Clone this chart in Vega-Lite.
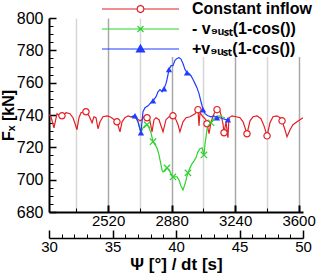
{
  "$schema": "https://vega.github.io/schema/vega-lite/v6.json",
  "width": 254,
  "height": 194,
  "autosize": {"type": "none"},
  "padding": {"left": 49, "top": 18, "right": 17, "bottom": 64},
  "background": "white",
  "config": {
    "font": "Liberation Sans",
    "view": {"stroke": null},
    "axis": {"labelColor": "black", "titleColor": "black", "tickColor": "black", "domainColor": "black", "labelFont": "Liberation Sans", "titleFont": "Liberation Sans"}
  },
  "datasets": {
    "curves": [
      {"series": "Constant inflow", "deg": 30.00, "F": 740.2},
      {"series": "Constant inflow", "deg": 30.16, "F": 738.9},
      {"series": "Constant inflow", "deg": 30.39, "F": 732.1},
      {"series": "Constant inflow", "deg": 30.63, "F": 740.8},
      {"series": "Constant inflow", "deg": 30.87, "F": 739.5},
      {"series": "Constant inflow", "deg": 31.02, "F": 739.5},
      {"series": "Constant inflow", "deg": 31.34, "F": 741.4},
      {"series": "Constant inflow", "deg": 31.65, "F": 740.8},
      {"series": "Constant inflow", "deg": 31.89, "F": 738.3},
      {"series": "Constant inflow", "deg": 32.05, "F": 734.6},
      {"series": "Constant inflow", "deg": 32.20, "F": 730.9},
      {"series": "Constant inflow", "deg": 32.36, "F": 738.3},
      {"series": "Constant inflow", "deg": 32.52, "F": 741.4},
      {"series": "Constant inflow", "deg": 32.76, "F": 742.0},
      {"series": "Constant inflow", "deg": 32.91, "F": 742.0},
      {"series": "Constant inflow", "deg": 33.15, "F": 739.5},
      {"series": "Constant inflow", "deg": 33.39, "F": 735.2},
      {"series": "Constant inflow", "deg": 33.54, "F": 738.9},
      {"series": "Constant inflow", "deg": 33.70, "F": 738.3},
      {"series": "Constant inflow", "deg": 33.86, "F": 731.5},
      {"series": "Constant inflow", "deg": 34.02, "F": 735.8},
      {"series": "Constant inflow", "deg": 34.25, "F": 738.9},
      {"series": "Constant inflow", "deg": 34.57, "F": 739.5},
      {"series": "Constant inflow", "deg": 34.80, "F": 738.9},
      {"series": "Constant inflow", "deg": 35.04, "F": 737.7},
      {"series": "Constant inflow", "deg": 35.35, "F": 735.8},
      {"series": "Constant inflow", "deg": 35.59, "F": 729.6},
      {"series": "Constant inflow", "deg": 35.75, "F": 735.8},
      {"series": "Constant inflow", "deg": 35.98, "F": 738.3},
      {"series": "Constant inflow", "deg": 36.22, "F": 739.5},
      {"series": "Constant inflow", "deg": 36.46, "F": 738.9},
      {"series": "Constant inflow", "deg": 36.69, "F": 738.9},
      {"series": "Constant inflow", "deg": 36.93, "F": 737.7},
      {"series": "Constant inflow", "deg": 37.17, "F": 736.4},
      {"series": "Constant inflow", "deg": 37.32, "F": 737.1},
      {"series": "Constant inflow", "deg": 37.48, "F": 738.9},
      {"series": "Constant inflow", "deg": 37.72, "F": 738.3},
      {"series": "Constant inflow", "deg": 37.95, "F": 736.4},
      {"series": "Constant inflow", "deg": 38.11, "F": 729.6},
      {"series": "Constant inflow", "deg": 38.27, "F": 737.1},
      {"series": "Constant inflow", "deg": 38.43, "F": 738.3},
      {"series": "Constant inflow", "deg": 38.66, "F": 737.1},
      {"series": "Constant inflow", "deg": 38.98, "F": 729.6},
      {"series": "Constant inflow", "deg": 39.21, "F": 737.1},
      {"series": "Constant inflow", "deg": 39.45, "F": 738.9},
      {"series": "Constant inflow", "deg": 39.76, "F": 739.5},
      {"series": "Constant inflow", "deg": 40.00, "F": 737.1},
      {"series": "Constant inflow", "deg": 40.16, "F": 734.0},
      {"series": "Constant inflow", "deg": 40.31, "F": 729.6},
      {"series": "Constant inflow", "deg": 40.55, "F": 735.8},
      {"series": "Constant inflow", "deg": 40.79, "F": 738.3},
      {"series": "Constant inflow", "deg": 41.10, "F": 738.9},
      {"series": "Constant inflow", "deg": 41.50, "F": 740.8},
      {"series": "Constant inflow", "deg": 41.73, "F": 743.3},
      {"series": "Constant inflow", "deg": 41.81, "F": 733.3},
      {"series": "Constant inflow", "deg": 41.89, "F": 741.4},
      {"series": "Constant inflow", "deg": 42.13, "F": 738.9},
      {"series": "Constant inflow", "deg": 42.36, "F": 737.1},
      {"series": "Constant inflow", "deg": 42.44, "F": 734.6},
      {"series": "Constant inflow", "deg": 42.60, "F": 728.4},
      {"series": "Constant inflow", "deg": 42.76, "F": 735.8},
      {"series": "Constant inflow", "deg": 42.99, "F": 740.8},
      {"series": "Constant inflow", "deg": 43.23, "F": 743.3},
      {"series": "Constant inflow", "deg": 43.39, "F": 743.9},
      {"series": "Constant inflow", "deg": 43.54, "F": 740.2},
      {"series": "Constant inflow", "deg": 43.70, "F": 734.6},
      {"series": "Constant inflow", "deg": 43.78, "F": 729.0},
      {"series": "Constant inflow", "deg": 43.94, "F": 735.8},
      {"series": "Constant inflow", "deg": 44.09, "F": 725.9},
      {"series": "Constant inflow", "deg": 44.17, "F": 738.3},
      {"series": "Constant inflow", "deg": 44.41, "F": 739.5},
      {"series": "Constant inflow", "deg": 44.72, "F": 738.9},
      {"series": "Constant inflow", "deg": 45.04, "F": 738.3},
      {"series": "Constant inflow", "deg": 45.28, "F": 735.8},
      {"series": "Constant inflow", "deg": 45.59, "F": 728.4},
      {"series": "Constant inflow", "deg": 45.83, "F": 736.4},
      {"series": "Constant inflow", "deg": 46.06, "F": 738.9},
      {"series": "Constant inflow", "deg": 46.38, "F": 739.5},
      {"series": "Constant inflow", "deg": 46.69, "F": 737.7},
      {"series": "Constant inflow", "deg": 46.93, "F": 733.3},
      {"series": "Constant inflow", "deg": 47.17, "F": 727.1},
      {"series": "Constant inflow", "deg": 47.40, "F": 735.2},
      {"series": "Constant inflow", "deg": 47.64, "F": 738.9},
      {"series": "Constant inflow", "deg": 47.95, "F": 739.5},
      {"series": "Constant inflow", "deg": 48.19, "F": 738.3},
      {"series": "Constant inflow", "deg": 48.35, "F": 736.4},
      {"series": "Constant inflow", "deg": 48.58, "F": 730.9},
      {"series": "Constant inflow", "deg": 48.74, "F": 726.5},
      {"series": "Constant inflow", "deg": 48.98, "F": 730.9},
      {"series": "Constant inflow", "deg": 49.21, "F": 734.0},
      {"series": "Constant inflow", "deg": 49.53, "F": 735.8},
      {"series": "Constant inflow", "deg": 49.76, "F": 737.1},
      {"series": "Constant inflow", "deg": 50.00, "F": 738.3},

      {"series": "- vgust(1-cos())", "deg": 36.46, "F": 738.9},
      {"series": "- vgust(1-cos())", "deg": 36.77, "F": 739.5},
      {"series": "- vgust(1-cos())", "deg": 37.01, "F": 735.8},
      {"series": "- vgust(1-cos())", "deg": 37.24, "F": 729.0},
      {"series": "- vgust(1-cos())", "deg": 37.40, "F": 732.1},
      {"series": "- vgust(1-cos())", "deg": 37.56, "F": 733.3},
      {"series": "- vgust(1-cos())", "deg": 37.72, "F": 734.0},
      {"series": "- vgust(1-cos())", "deg": 37.87, "F": 732.1},
      {"series": "- vgust(1-cos())", "deg": 38.03, "F": 729.0},
      {"series": "- vgust(1-cos())", "deg": 38.19, "F": 723.5},
      {"series": "- vgust(1-cos())", "deg": 38.35, "F": 721.6},
      {"series": "- vgust(1-cos())", "deg": 38.50, "F": 719.7},
      {"series": "- vgust(1-cos())", "deg": 38.66, "F": 715.3},
      {"series": "- vgust(1-cos())", "deg": 38.74, "F": 712.2},
      {"series": "- vgust(1-cos())", "deg": 38.90, "F": 706.0},
      {"series": "- vgust(1-cos())", "deg": 38.98, "F": 704.8},
      {"series": "- vgust(1-cos())", "deg": 39.13, "F": 705.4},
      {"series": "- vgust(1-cos())", "deg": 39.29, "F": 707.3},
      {"series": "- vgust(1-cos())", "deg": 39.45, "F": 706.0},
      {"series": "- vgust(1-cos())", "deg": 39.61, "F": 703.6},
      {"series": "- vgust(1-cos())", "deg": 39.76, "F": 701.7},
      {"series": "- vgust(1-cos())", "deg": 39.92, "F": 701.7},
      {"series": "- vgust(1-cos())", "deg": 40.08, "F": 701.7},
      {"series": "- vgust(1-cos())", "deg": 40.24, "F": 699.8},
      {"series": "- vgust(1-cos())", "deg": 40.39, "F": 696.1},
      {"series": "- vgust(1-cos())", "deg": 40.55, "F": 693.6},
      {"series": "- vgust(1-cos())", "deg": 40.71, "F": 697.3},
      {"series": "- vgust(1-cos())", "deg": 40.87, "F": 702.3},
      {"series": "- vgust(1-cos())", "deg": 40.94, "F": 704.2},
      {"series": "- vgust(1-cos())", "deg": 41.10, "F": 707.3},
      {"series": "- vgust(1-cos())", "deg": 41.26, "F": 709.8},
      {"series": "- vgust(1-cos())", "deg": 41.42, "F": 711.6},
      {"series": "- vgust(1-cos())", "deg": 41.57, "F": 713.5},
      {"series": "- vgust(1-cos())", "deg": 41.73, "F": 717.2},
      {"series": "- vgust(1-cos())", "deg": 41.89, "F": 719.1},
      {"series": "- vgust(1-cos())", "deg": 42.05, "F": 719.7},
      {"series": "- vgust(1-cos())", "deg": 42.20, "F": 715.3},
      {"series": "- vgust(1-cos())", "deg": 42.28, "F": 721.6},
      {"series": "- vgust(1-cos())", "deg": 42.44, "F": 730.9},
      {"series": "- vgust(1-cos())", "deg": 42.60, "F": 735.8},
      {"series": "- vgust(1-cos())", "deg": 42.76, "F": 735.2},
      {"series": "- vgust(1-cos())", "deg": 42.91, "F": 737.1},
      {"series": "- vgust(1-cos())", "deg": 43.15, "F": 738.9},
      {"series": "- vgust(1-cos())", "deg": 43.39, "F": 739.5},
      {"series": "- vgust(1-cos())", "deg": 43.62, "F": 738.9},
      {"series": "- vgust(1-cos())", "deg": 43.86, "F": 738.3},

      {"series": "+vgust(1-cos())", "deg": 36.46, "F": 738.9},
      {"series": "+vgust(1-cos())", "deg": 36.77, "F": 739.5},
      {"series": "+vgust(1-cos())", "deg": 37.01, "F": 735.8},
      {"series": "+vgust(1-cos())", "deg": 37.24, "F": 729.0},
      {"series": "+vgust(1-cos())", "deg": 37.40, "F": 742.0},
      {"series": "+vgust(1-cos())", "deg": 37.56, "F": 744.5},
      {"series": "+vgust(1-cos())", "deg": 37.80, "F": 745.7},
      {"series": "+vgust(1-cos())", "deg": 37.95, "F": 747.0},
      {"series": "+vgust(1-cos())", "deg": 38.19, "F": 748.8},
      {"series": "+vgust(1-cos())", "deg": 38.43, "F": 751.3},
      {"series": "+vgust(1-cos())", "deg": 38.58, "F": 754.4},
      {"series": "+vgust(1-cos())", "deg": 38.74, "F": 755.7},
      {"series": "+vgust(1-cos())", "deg": 38.90, "F": 754.4},
      {"series": "+vgust(1-cos())", "deg": 39.06, "F": 756.3},
      {"series": "+vgust(1-cos())", "deg": 39.21, "F": 759.4},
      {"series": "+vgust(1-cos())", "deg": 39.29, "F": 761.9},
      {"series": "+vgust(1-cos())", "deg": 39.45, "F": 768.1},
      {"series": "+vgust(1-cos())", "deg": 39.61, "F": 770.5},
      {"series": "+vgust(1-cos())", "deg": 39.76, "F": 770.5},
      {"series": "+vgust(1-cos())", "deg": 39.92, "F": 773.8},
      {"series": "+vgust(1-cos())", "deg": 40.08, "F": 775.0},
      {"series": "+vgust(1-cos())", "deg": 40.24, "F": 775.5},
      {"series": "+vgust(1-cos())", "deg": 40.39, "F": 774.6},
      {"series": "+vgust(1-cos())", "deg": 40.55, "F": 771.8},
      {"series": "+vgust(1-cos())", "deg": 40.71, "F": 768.1},
      {"series": "+vgust(1-cos())", "deg": 40.87, "F": 766.2},
      {"series": "+vgust(1-cos())", "deg": 41.02, "F": 765.6},
      {"series": "+vgust(1-cos())", "deg": 41.18, "F": 764.3},
      {"series": "+vgust(1-cos())", "deg": 41.34, "F": 761.9},
      {"series": "+vgust(1-cos())", "deg": 41.50, "F": 759.4},
      {"series": "+vgust(1-cos())", "deg": 41.65, "F": 756.9},
      {"series": "+vgust(1-cos())", "deg": 41.81, "F": 753.2},
      {"series": "+vgust(1-cos())", "deg": 41.97, "F": 748.2},
      {"series": "+vgust(1-cos())", "deg": 42.13, "F": 743.3},
      {"series": "+vgust(1-cos())", "deg": 42.28, "F": 740.8},
      {"series": "+vgust(1-cos())", "deg": 42.52, "F": 739.5},
      {"series": "+vgust(1-cos())", "deg": 42.76, "F": 738.9},
      {"series": "+vgust(1-cos())", "deg": 42.99, "F": 739.5},
      {"series": "+vgust(1-cos())", "deg": 43.23, "F": 738.3},
      {"series": "+vgust(1-cos())", "deg": 43.46, "F": 738.3},
      {"series": "+vgust(1-cos())", "deg": 43.70, "F": 737.7},
      {"series": "+vgust(1-cos())", "deg": 43.94, "F": 737.1},
      {"series": "+vgust(1-cos())", "deg": 44.09, "F": 737.1},
      {"series": "+vgust(1-cos())", "deg": 44.25, "F": 737.7}
    ],
    "markers": [
      {"series": "Constant inflow", "deg": 31.02, "F": 739.5},
      {"series": "Constant inflow", "deg": 32.91, "F": 742.0},
      {"series": "Constant inflow", "deg": 35.35, "F": 735.8},
      {"series": "Constant inflow", "deg": 37.72, "F": 738.3},
      {"series": "Constant inflow", "deg": 39.76, "F": 739.5},
      {"series": "Constant inflow", "deg": 41.73, "F": 743.3},
      {"series": "Constant inflow", "deg": 42.44, "F": 734.6},
      {"series": "Constant inflow", "deg": 43.23, "F": 743.3},
      {"series": "Constant inflow", "deg": 43.78, "F": 729.0},
      {"series": "Constant inflow", "deg": 45.59, "F": 728.4},
      {"series": "Constant inflow", "deg": 47.17, "F": 727.1},
      {"series": "Constant inflow", "deg": 48.35, "F": 736.4},
      {"series": "- vgust(1-cos())", "deg": 37.72, "F": 734.0},
      {"series": "- vgust(1-cos())", "deg": 38.19, "F": 723.5},
      {"series": "- vgust(1-cos())", "deg": 39.29, "F": 707.3},
      {"series": "- vgust(1-cos())", "deg": 39.76, "F": 701.7},
      {"series": "- vgust(1-cos())", "deg": 40.94, "F": 704.2},
      {"series": "- vgust(1-cos())", "deg": 42.20, "F": 715.3},
      {"series": "- vgust(1-cos())", "deg": 42.76, "F": 735.2},
      {"series": "+vgust(1-cos())", "deg": 36.77, "F": 739.5},
      {"series": "+vgust(1-cos())", "deg": 37.24, "F": 729.0},
      {"series": "+vgust(1-cos())", "deg": 38.19, "F": 748.8},
      {"series": "+vgust(1-cos())", "deg": 39.06, "F": 756.3},
      {"series": "+vgust(1-cos())", "deg": 39.45, "F": 768.1},
      {"series": "+vgust(1-cos())", "deg": 40.87, "F": 766.2},
      {"series": "+vgust(1-cos())", "deg": 42.13, "F": 743.3},
      {"series": "+vgust(1-cos())", "deg": 43.23, "F": 738.3},
      {"series": "+vgust(1-cos())", "deg": 44.09, "F": 737.1}
    ]
  },
  "layer": [
    {
      "data": {"name": "curves"},
      "transform": [{"filter": "datum.series === 'Constant inflow'"}],
      "mark": {"type": "line", "strokeWidth": 1.2, "clip": true},
      "encoding": {
        "x": {"field": "deg", "type": "quantitative",
          "scale": {"domain": [30, 50], "nice": false, "zero": false},
          "axis": {"orient": "bottom", "offset": 26, "values": [30, 35, 40, 45, 50], "tickSize": -8, "tickWidth": 1.5, "domainWidth": 1.5, "grid": false,
            "labelFontSize": 15, "labelPadding": 9, "labelFlush": false, "labelOverlap": false,
            "title": "Ψ [°] / dt [s]", "titleFontSize": 17, "titleFontWeight": "bold", "titlePadding": 2}},
        "y": {"field": "F", "type": "quantitative",
          "scale": {"domain": [680, 800], "nice": false, "zero": false},
          "axis": {"orient": "left", "values": [680, 700, 720, 740, 760, 780, 800], "tickSize": -7, "tickWidth": 1.5, "domainWidth": 2, "grid": false,
            "labelFontSize": 16, "labelPadding": 13, "labelFlush": false, "labelOverlap": false,
            "title": "Fₓ [kN]", "titleFontSize": 16, "titleFontWeight": "bold", "titlePadding": 0}},
        "color": {"field": "series", "type": "nominal",
          "scale": {"domain": ["Constant inflow", "- vgust(1-cos())", "+vgust(1-cos())"], "range": ["#e31e24", "#2fd22f", "#1f3cff"]},
          "legend": {"orient": "none", "legendX": 122, "legendY": -17, "title": null, "symbolType": "stroke", "symbolSize": 100, "symbolStrokeWidth": 1.2,
            "labelFont": "Liberation Sans", "labelFontSize": 16, "labelFontWeight": "bold", "labelColor": "black", "labelOffset": 5, "labelLimit": 0,
            "rowPadding": 4, "padding": 0, "fillColor": "white",
            "labelExpr": "datum.index == 0 ? 'Constant inflow' : datum.index == 1 ? '- v₉ᵤₛₜ(1-cos())' : '+v₉ᵤₛₜ(1-cos())'",
            "encode": {"symbols": {"update": {
              "shape": {"signal": "datum.index == 0 ? 'M-15.4,0L-8.4,0M-7,0L0,0M-7,0L-7.2,0.5L-7.7,0.7L-8.2,0.5L-8.4,0L-8.2,-0.5L-7.7,-0.7L-7.2,-0.5Z' : datum.index == 1 ? 'M-15.4,0L0,0M-8.3,-0.6L-7.1,0.6M-8.3,0.6L-7.1,-0.6' : 'M-15.4,0L0,0M-7.7,-0.8L-6.9,0.6L-8.5,0.6Z'"},
              "fill": {"signal": "datum.index == 0 ? 'white' : datum.index == 1 ? 'transparent' : '#1f3cff'"},
              "stroke": {"signal": "datum.index == 0 ? '#e31e24' : datum.index == 1 ? '#2fd22f' : '#1f3cff'"},
              "strokeWidth": {"value": 1.2},
              "opacity": {"value": 1}
            }}}}
        }
      }
    },
    {
      "data": {"name": "curves"},
      "transform": [{"filter": "datum.series === '- vgust(1-cos())'"}],
      "mark": {"type": "line", "strokeWidth": 1.2, "clip": true},
      "encoding": {
        "x": {"field": "deg", "type": "quantitative",
          "scale": {"domain": [30, 50], "nice": false, "zero": false},
          "axis": {"orient": "bottom", "offset": 26, "values": [31, 32, 33, 34, 36, 37, 38, 39, 41, 42, 43, 44, 46, 47, 48, 49], "tickSize": -4, "tickWidth": 1, "domain": false, "labels": false, "grid": false, "title": null}},
        "y": {"field": "F", "type": "quantitative",
          "scale": {"domain": [680, 800], "nice": false, "zero": false},
          "axis": {"orient": "left", "values": [685, 690, 695, 705, 710, 715, 725, 730, 735, 745, 750, 755, 765, 770, 775, 785, 790, 795], "tickSize": -4, "tickWidth": 1, "domain": false, "labels": false, "grid": false, "title": null}},
        "color": {"field": "series", "type": "nominal",
          "scale": {"domain": ["Constant inflow", "- vgust(1-cos())", "+vgust(1-cos())"], "range": ["#e31e24", "#2fd22f", "#1f3cff"]}}
      }
    },
    {
      "data": {"name": "curves"},
      "transform": [{"filter": "datum.series === '+vgust(1-cos())'"}],
      "mark": {"type": "line", "strokeWidth": 1.2, "clip": true},
      "encoding": {
        "x": {"field": "deg", "type": "quantitative",
          "scale": {"domain": [30, 50], "nice": false, "zero": false},
          "axis": {"orient": "bottom", "offset": 0, "values": [34.653, 39.653, 44.653, 49.653], "tickSize": -7, "tickWidth": 2, "domainWidth": 2,
            "grid": true, "gridColor": "#a8a8a8", "gridWidth": 1.5,
            "labelExpr": "format((datum.value - 34.653) * 72 + 2520, 'd')",
            "labelFontSize": 15, "labelPadding": 8, "labelFlush": false, "labelOverlap": false, "title": null}},
        "y": {"field": "F", "type": "quantitative",
          "scale": {"domain": [680, 800], "nice": false, "zero": false}, "axis": null},
        "color": {"field": "series", "type": "nominal",
          "scale": {"domain": ["Constant inflow", "- vgust(1-cos())", "+vgust(1-cos())"], "range": ["#e31e24", "#2fd22f", "#1f3cff"]}}
      }
    },
    {
      "data": {"name": "markers"},
      "transform": [{"filter": "datum.series === 'Constant inflow'"}],
      "mark": {"type": "point", "shape": "circle", "filled": false, "fill": "white", "stroke": "#e31e24", "size": 40, "strokeWidth": 1.2, "opacity": 1, "clip": true},
      "encoding": {
        "x": {"field": "deg", "type": "quantitative",
          "scale": {"domain": [30, 50], "nice": false, "zero": false},
          "axis": {"orient": "bottom", "offset": 0, "values": [32.153, 37.153, 42.153, 47.153], "tickSize": -4, "tickWidth": 1, "domain": false, "labels": false,
            "grid": true, "gridColor": "#d6d6d6", "gridWidth": 1.5, "title": null}},
        "y": {"field": "F", "type": "quantitative",
          "scale": {"domain": [680, 800], "nice": false, "zero": false}, "axis": null}
      }
    },
    {
      "data": {"name": "markers"},
      "transform": [{"filter": "datum.series === '- vgust(1-cos())'"}],
      "mark": {"type": "point", "shape": "M-1,-1L1,1M-1,1L1,-1", "filled": false, "stroke": "#2fd22f", "size": 40, "strokeWidth": 1.2, "opacity": 1, "clip": true},
      "encoding": {
        "x": {"field": "deg", "type": "quantitative",
          "scale": {"domain": [30, 50], "nice": false, "zero": false}, "axis": null},
        "y": {"field": "F", "type": "quantitative",
          "scale": {"domain": [680, 800], "nice": false, "zero": false}, "axis": null}
      }
    },
    {
      "data": {"name": "markers"},
      "transform": [{"filter": "datum.series === '+vgust(1-cos())'"}],
      "mark": {"type": "point", "shape": "triangle-up", "filled": true, "color": "#1f3cff", "size": 40, "opacity": 1, "clip": true},
      "encoding": {
        "x": {"field": "deg", "type": "quantitative",
          "scale": {"domain": [30, 50], "nice": false, "zero": false}, "axis": null},
        "y": {"field": "F", "type": "quantitative",
          "scale": {"domain": [680, 800], "nice": false, "zero": false}, "axis": null}
      }
    }
  ],
  "resolve": {"scale": {"x": "shared", "y": "shared"}, "axis": {"x": "independent", "y": "independent"}}
}
